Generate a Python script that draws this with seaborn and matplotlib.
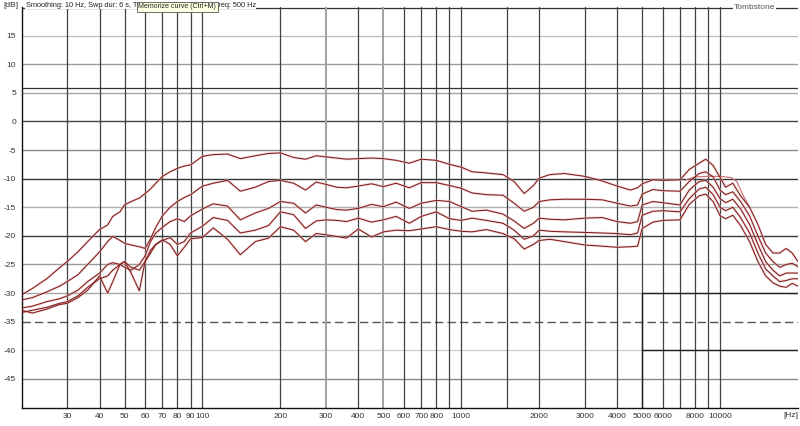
import numpy as np
import pandas as pd
import matplotlib
matplotlib.use("Agg")
import matplotlib.pyplot as plt
import matplotlib.transforms as mtransforms
import seaborn as sns

# frequency points shared by all five response curves (Hz)
freq = [20, 22, 25, 28, 30, 33, 36, 40, 43, 45,
        48, 50, 53, 57, 60, 63, 66, 70, 75, 80,
        85, 90, 100, 110, 125, 140, 160, 180, 200, 225,
        250, 275, 300, 330, 360, 400, 450, 500, 560, 630,
        700, 800, 900, 1000, 1100, 1250, 1450, 1600, 1750, 1900,
        2000, 2200, 2500, 3000, 3500, 4000, 4500, 4800, 5000, 5500,
        6000, 7000, 7600, 8300, 8800, 9400, 10000, 10500, 11200, 12000,
        13000, 14000, 15000, 16000, 17000, 18000, 19000, 20000]

# levels in dB (top curve to bottom curve)
curve_a = [-30.3, -29.2, -27.5, -25.6, -24.5, -22.8, -21.0, -18.9, -18.1, -16.6,
           -15.8, -14.6, -14.0, -13.4, -12.6, -11.8, -10.8, -9.6, -8.8, -8.2,
           -7.8, -7.6, -6.1, -5.8, -5.7, -6.5, -6.0, -5.6, -5.5, -6.3,
           -6.6, -6.0, -6.2, -6.4, -6.6, -6.5, -6.4, -6.5, -6.8, -7.3,
           -6.6, -6.8, -7.5, -8.0, -8.8, -9.0, -9.3, -10.5, -12.6, -11.2,
           -9.9, -9.3, -9.1, -9.6, -10.4, -11.3, -12.0, -11.6, -10.9, -10.2,
           -10.3, -10.2, -8.4, -7.3, -6.6, -7.7, -9.8, -11.5, -10.8, -13.0,
           -15.0, -18.0, -21.5, -23.0, -23.0, -22.2, -23.0, -24.5]
curve_b = [-31.2, -30.8, -29.8, -28.8, -28.0, -26.8, -25.0, -22.8, -21.0, -20.1,
           -20.8, -21.3, -21.6, -21.9, -22.2, -20.5, -18.5, -16.5, -15.0, -14.0,
           -13.3, -12.8, -11.3, -10.8, -10.3, -12.2, -11.5, -10.5, -10.3, -10.8,
           -12.0, -10.6, -11.0, -11.5, -11.6, -11.3, -10.9, -11.4, -10.8, -11.6,
           -10.7, -10.7, -11.2, -11.7, -12.5, -12.8, -12.9, -14.3, -15.7, -15.0,
           -14.0, -13.7, -13.6, -13.6, -13.7, -14.3, -14.8, -14.6, -12.7, -11.9,
           -12.1, -12.2, -10.5, -9.1, -8.8, -9.7, -12.0, -12.8, -12.3, -14.0,
           -16.5, -20.0, -23.0, -24.5, -25.5, -25.0, -24.8, -25.4]
curve_c = [-32.6, -32.3, -31.5, -31.0, -30.5, -29.5, -28.0, -26.5, -25.0, -24.7,
           -25.0, -25.5, -26.0, -25.0, -23.5, -21.0, -19.5, -18.5, -17.5, -17.0,
           -17.5, -16.5, -15.3, -14.4, -14.8, -17.2, -16.0, -15.2, -14.0, -14.3,
           -16.0, -14.6, -15.0, -15.4, -15.5, -15.2, -14.5, -14.9, -14.1, -15.2,
           -14.3, -13.8, -14.0, -14.9, -15.7, -15.5, -16.2, -17.4, -18.7, -17.8,
           -16.9, -17.1, -17.2, -16.9, -16.8, -17.5, -17.8, -17.5, -14.6, -14.0,
           -14.2, -14.6, -12.0, -10.5, -10.3, -11.5, -13.5, -14.2, -13.6, -15.3,
           -18.0, -21.5, -24.5, -26.0, -27.0, -26.5, -26.5, -26.5]
curve_d = [-33.4, -33.0, -32.5, -31.8, -31.5, -30.5, -29.0, -27.5, -27.0, -26.0,
           -25.0, -24.5, -25.5, -26.0, -24.5, -23.0, -21.5, -20.8, -20.3, -21.5,
           -21.0, -19.5, -18.3, -16.8, -17.3, -19.5, -19.0, -18.2, -15.8, -16.3,
           -18.7, -17.4, -17.2, -17.3, -17.5, -16.9, -17.6, -17.2, -16.6, -17.8,
           -16.6, -15.8, -17.0, -17.3, -16.9, -17.3, -17.8, -19.0, -20.6, -20.0,
           -19.0, -19.2, -19.3, -19.4, -19.5, -19.6, -19.8, -19.5, -16.4, -15.7,
           -15.6, -15.8, -13.5, -11.8, -11.5, -12.8, -15.0, -15.6, -15.0, -16.8,
           -19.5, -23.0, -25.8, -27.0, -28.0, -27.8, -27.5, -27.5]
curve_e = [-33.0, -33.5, -32.8, -32.0, -31.8, -30.8, -29.5, -27.0, -30.0, -28.0,
           -25.0, -24.5, -26.5, -29.6, -24.5, -22.5, -21.5, -20.7, -21.5, -23.5,
           -22.0, -20.5, -20.3, -18.6, -20.6, -23.3, -21.0, -20.4, -18.4, -19.0,
           -21.0, -19.6, -19.8, -20.1, -20.4, -18.8, -20.2, -19.3, -19.0, -19.1,
           -18.8, -18.4, -18.9, -19.2, -19.3, -18.9, -19.6, -20.5, -22.3, -21.5,
           -20.8, -20.6, -21.0, -21.6, -21.8, -22.0, -21.9, -21.8, -18.7, -17.6,
           -17.3, -17.2, -14.5, -13.0, -12.7, -14.0, -16.5, -17.0, -16.4, -18.2,
           -21.0, -24.5, -27.0, -28.2, -28.8, -29.0, -28.3, -28.8]

# short memorised trace near the top around 10 kHz
mem_freq = [7300, 8000, 9000, 10000, 11000, 11600, 12300, 13000]
mem_level = [-10.3, -9.7, -9.6, -9.6, -9.8, -10.5, -13.0, -15.0]

x_labels = [30, 40, 50, 60, 70, 80, 90, 100, 200, 300, 400, 500, 600, 700, 800,
            1000, 2000, 3000, 4000, 5000, 6000, 8000, 10000]
x_grid = [30, 40, 50, 60, 70, 80, 90, 100, 200, 300, 400, 500, 600, 700, 800, 900,
          1000, 1500, 2000, 3000, 4000, 5000, 6000, 7000, 8000, 9000, 10000]
y_labels = [15, 10, 5, 0, -5, -10, -15, -20, -25, -30, -35, -40, -45]

header = "Smoothing: 10 Hz, Swp dur: 6 s, Trig. level: -20.0 dB, Trig. freq: 500 Hz"

rows = []
for name, vals in [("A", curve_a), ("B", curve_b), ("C", curve_c), ("D", curve_d), ("E", curve_e)]:
    for f, v in zip(freq, vals):
        rows.append({"curve": name, "freq": f, "level": v})
df = pd.DataFrame(rows)
mem = pd.DataFrame({"freq": mem_freq, "level": mem_level})

sns.set_theme(style="white")
plt.rcParams["font.family"] = ["Liberation Sans", "DejaVu Sans"]

fig = plt.figure(figsize=(8, 4.26), dpi=100)
ax = fig.add_axes([0.027, 0.0434, 0.9705, 0.9402])
ax.set_xscale("log")
ax.set_xlim(20, 20000)
ax.set_ylim(-50, 20)

# grid lines, drawn by hand to get the mixed grey tones of the screenshot
hgrid_col = {15: "#bdbdbd", 10: "#9a9a9a", 5: "#a8a8a8", 0: "#444444", -5: "#8a8a8a",
             -10: "#333333", -15: "#b0b0b0", -20: "#3a3a3a", -25: "#9a9a9a",
             -30: "#a8a8a8", -35: "#555555", -40: "#cfcfcf", -45: "#888888"}
for yv, c in hgrid_col.items():
    ls = (0, (6, 3)) if yv == -35 else "-"
    ax.axhline(yv, color=c, lw=1.0, ls=ls, zorder=1)
ax.axhline(5.8, color="#333333", lw=0.9, zorder=1)
ax.axhline(19.8, color="#333333", lw=0.9, zorder=1)
for xv in x_grid:
    c = "#a0a0a0" if xv in (300, 500) else "#404040"
    ax.axvline(xv, color=c, lw=0.9 if c == "#404040" else 1.4, zorder=1)
# leftover overlay box in the lower right
ax.plot([4980, 20000], [-30, -30], color="#222222", lw=1.0, zorder=1)
ax.plot([4980, 20000], [-40, -40], color="#222222", lw=1.0, zorder=1)
ax.plot([4980, 4980], [-30, -50], color="#222222", lw=1.0, zorder=1)

# soft pink halo under each trace, then the dark red trace itself
sns.lineplot(data=df, x="freq", y="level", units="curve", estimator=None, sort=False,
             color="#f0c0c0", lw=1.8, alpha=0.6, ax=ax, legend=False, zorder=2)
sns.lineplot(data=mem, x="freq", y="level", estimator=None, sort=False,
             color="#c96a6a", lw=0.8, ax=ax, legend=False, zorder=2)
sns.lineplot(data=df, x="freq", y="level", units="curve", estimator=None, sort=False,
             color="#7e1c1c", lw=0.75, ax=ax, legend=False, zorder=3)

ax.set_xticks(x_labels)
ax.set_xticklabels([str(v) for v in x_labels])
ax.xaxis.set_minor_locator(matplotlib.ticker.NullLocator())
ax.set_yticks(y_labels)
ax.set_yticklabels([str(v) for v in y_labels])
ax.tick_params(axis="both", length=0, labelsize=6, colors="#333333")
ax.tick_params(axis="x", pad=4)
ax.tick_params(axis="y", pad=4)
ax.set_xlabel("")
ax.set_ylabel("")

for side in ["top", "right"]:
    ax.spines[side].set_visible(False)
for side in ["left", "bottom"]:
    ax.spines[side].set_color("#111111")
    ax.spines[side].set_linewidth(1.0)

trans = mtransforms.blended_transform_factory(ax.transData, ax.transAxes)
ax.text(18700, -0.012, "[Hz]", transform=trans, ha="center", va="top", fontsize=6, color="#333333")
fig.text(0.004, 0.988, "[dB]", ha="left", va="center", fontsize=6, color="#333333")
fig.text(0.032, 0.988, header, ha="left", va="center", fontsize=5.3, color="#222222",
         bbox=dict(boxstyle="square,pad=0.1", fc="white", ec="none"))
fig.text(0.173, 0.984, "Memorize curve (Ctrl+M)", ha="left", va="center", fontsize=5.0,
         color="#222222",
         bbox=dict(boxstyle="square,pad=0.25", fc="#ffffe1", ec="#555555", lw=0.6))
fig.text(0.969, 0.982, "Tombstone", ha="right", va="center", fontsize=6, color="#555555",
         bbox=dict(boxstyle="square,pad=0.1", fc="white", ec="none"))

fig.savefig("out.png", dpi=100)
